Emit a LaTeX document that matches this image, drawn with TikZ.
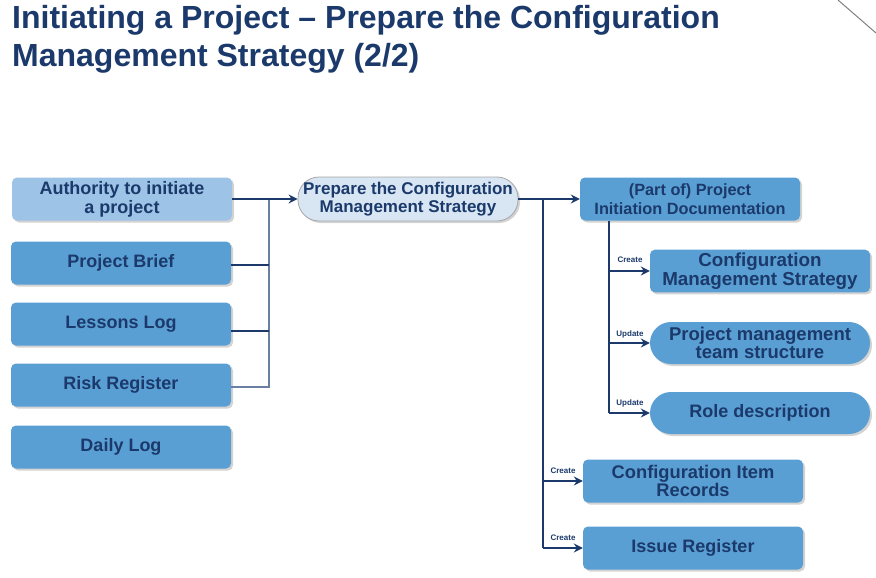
\documentclass[tikz,border=0pt]{standalone}
\usepackage{fontspec}
\setmainfont{Liberation Sans}
\usetikzlibrary{shadows,arrows.meta}
\definecolor{navy}{HTML}{1B3A6B}
\definecolor{greyblue}{HTML}{6B7FA3}
\definecolor{midblue}{HTML}{5A9FD4}
\definecolor{lightblue}{HTML}{9DC3E6}
\definecolor{paleblue}{HTML}{D8E6F4}
\begin{document}
\begin{tikzpicture}[x=1pt,y=-1pt,
  box/.style={rectangle,rounded corners=5pt,fill=midblue,draw=none,
    minimum width=220pt,minimum height=43pt,align=center,text=navy,
    inner xsep=2pt,font=\bfseries\fontsize{18}{19}\selectfont,
    drop shadow={shadow xshift=2pt,shadow yshift=-2pt,opacity=0.35}},
  pill/.style={box,rounded corners=21pt},
  conn/.style={draw=navy,line width=2.2pt},
  thinconn/.style={draw=greyblue,line width=1.6pt},
  arr/.style={conn,-{Stealth[length=9pt,width=9pt,inset=3pt]}},
  lbl/.style={font=\bfseries\fontsize{8}{9}\selectfont,text=navy,inner sep=0pt}]
\useasboundingbox (0,0) rectangle (876,578);
\draw[gray,line width=1pt] (838,0) -- (876,33);
\node[anchor=north west,inner sep=0pt,text=navy,align=left,
  font=\bfseries\fontsize{32}{38}\selectfont] (title) at (12,5)
  {Initiating a Project -- Prepare the Configuration\\Management Strategy (2/2)};
% left inputs
\node[box,fill=lightblue] (auth) at (122,199) {Authority to initiate\\a project};
\node[box] (brief) at (121,263) {Project Brief};
\node[box] (lessons) at (121,324) {Lessons Log};
\node[box] (risk) at (121,385) {Risk Register};
\node[box] (daily) at (121,447) {Daily Log};
% process
\node[pill,fill=paleblue,draw=gray!70,line width=0.8pt,minimum height=44pt,
  font=\bfseries\fontsize{17}{18}\selectfont] (prep) at (408,199)
  {Prepare the Configuration\\Management Strategy};
% outputs
\node[box,font=\bfseries\fontsize{16.3}{19}\selectfont] (pid) at (690,199)
  {(Part of) Project\\Initiation Documentation};
\node[box,minimum height=42pt,font=\bfseries\fontsize{18.8}{18.5}\selectfont] (cms) at (760,271) {Configuration\\Management Strategy};
\node[pill,minimum height=42pt,font=\bfseries\fontsize{18.5}{18.5}\selectfont] (pmts) at (760,343) {Project management\\team structure};
\node[pill,minimum height=42pt] (role) at (760,413) {Role description};
\node[box,font=\bfseries\fontsize{18.3}{18.5}\selectfont] (cir) at (693,481) {Configuration Item\\Records};
\node[box] (issue) at (693,548) {Issue Register};
% coordinates
\coordinate (j1) at (269,199);
\coordinate (j2) at (543,199);
\coordinate (v1) at (609,221);
% left connectors
\draw[thinconn] (j1) -- ([yshift=-2pt]risk.east -| j1) -- ([yshift=-2pt]risk.east);
\draw[arr] (auth.east) -- (prep.west);
\draw[conn] ([yshift=-2pt]brief.east) -- ([yshift=-2pt]brief.east -| j1);
\draw[conn] ([yshift=-7pt]lessons.east) -- ([yshift=-7pt]lessons.east -| j1);
% right connectors
\draw[arr] (prep.east) -- (pid.west);
\draw[conn] (j2) -- (j2 |- issue.west);
\draw[arr] (j2 |- cir.west) -- (cir.west);
\draw[arr] (j2 |- issue.west) -- (issue.west);
\draw[conn] (pid.south -| v1) -- (v1 |- role.west);
\draw[arr] (v1 |- cms.west) -- (cms.west);
\draw[arr] (v1 |- pmts.west) -- (pmts.west);
\draw[arr] (v1 |- role.west) -- (role.west);
% labels
\node[lbl] at (630,260) {Create};
\node[lbl] at (630,334) {Update};
\node[lbl] at (630,403) {Update};
\node[lbl] at (563,471) {Create};
\node[lbl] at (563,538) {Create};
\end{tikzpicture}
\end{document}
